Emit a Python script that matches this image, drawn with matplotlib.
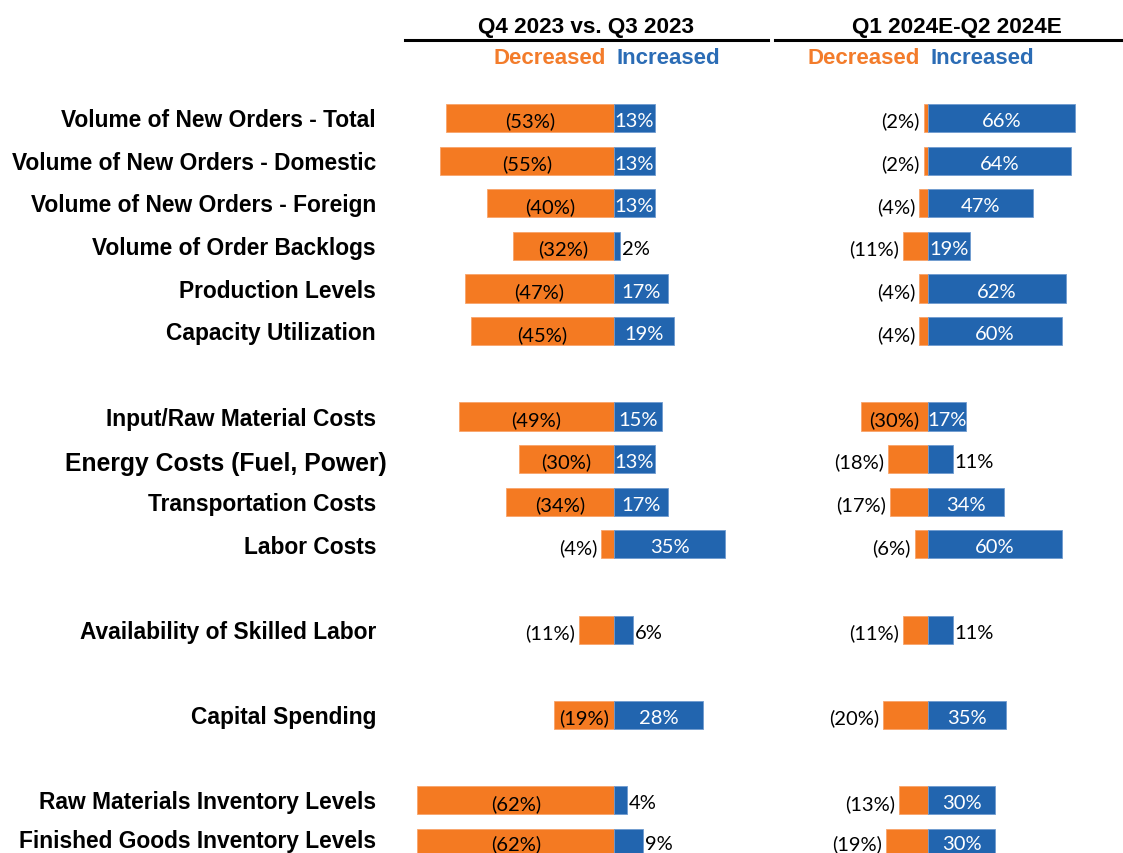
import matplotlib
matplotlib.use("Agg")
import matplotlib.pyplot as plt
from matplotlib.lines import Line2D
from matplotlib.transforms import blended_transform_factory, offset_copy

# ---------------- data ----------------
categories = [
    "Volume of New Orders - Total",
    "Volume of New Orders - Domestic",
    "Volume of New Orders - Foreign",
    "Volume of Order Backlogs",
    "Production Levels",
    "Capacity Utilization",
    "Input/Raw Material Costs",
    "Energy Costs (Fuel, Power)",
    "Transportation Costs",
    "Labor Costs",
    "Availability of Skilled Labor",
    "Capital Spending",
    "Raw Materials Inventory Levels",
    "Finished Goods Inventory Levels",
]
group_sizes = [6, 4, 1, 1, 2]

period_titles = ["Q4 2023 vs. Q3 2023", "Q1 2024E-Q2 2024E"]
legend_labels = ["Decreased", "Increased"]

q4_decreased = [53, 55, 40, 32, 47, 45, 49, 30, 34, 4, 11, 19, 62, 62]
q4_increased = [13, 13, 13, 2, 17, 19, 15, 13, 17, 35, 6, 28, 4, 9]
h1_decreased = [2, 2, 4, 11, 4, 4, 30, 18, 17, 6, 11, 20, 13, 19]
h1_increased = [66, 64, 47, 19, 62, 60, 17, 11, 34, 60, 11, 35, 30, 30]

# ---------------- style ----------------
ORANGE = "#F47A22"
BLUE = "#2265AF"
ORANGE_TXT = "#F37C2B"
BLUE_TXT = "#2B6CB5"
W, H = 1123, 854
LABEL_FONT = ["Liberation Sans", "DejaVu Sans"]
VAL_FONT = ["Lato", "DejaVu Sans"]
VAL_SIZE = 14.5

fig = plt.figure(figsize=(W / 100, H / 100), dpi=100)
fig.patch.set_facecolor("white")

# row positions with gaps between groups
positions = []
p = 0
for g in group_sizes:
    for _ in range(g):
        positions.append(p)
        p += 1
    p += 1

row0_px, row_step = 119.0, 42.64
y_top = -row0_px / row_step
y_bot = (H - row0_px) / row_step


def make_axes(x0, x1, center, scale):
    ax = fig.add_axes([x0 / W, 0, (x1 - x0) / W, 1])
    ax.set_xlim((x0 - center) / scale, (x1 - center) / scale)
    ax.set_ylim(y_bot, y_top)
    ax.axis("off")
    return ax


axL = make_axes(400, 770, 614, 3.17)
axR = make_axes(780, 1123, 928, 2.23)

fig.canvas.draw()
renderer = fig.canvas.get_renderer()
VAL_DY = 0.06
MIN_INSIDE_PX = 33


def keep_inside(t):
    """Nudge a text upward if it would be clipped by the bottom edge."""
    bb = t.get_window_extent(renderer)
    if bb.y0 < 1:
        t.set_transform(offset_copy(t.get_transform(), fig=fig,
                                    y=(1 - bb.y0), units="dots"))


def draw_panel(ax, dec, inc):
    ax.barh(positions, [-v for v in dec], height=0.66, color=ORANGE,
            edgecolor="#F8A46A", linewidth=0.6)
    ax.barh(positions, inc, height=0.66, color=BLUE,
            edgecolor="#6F9BD0", linewidth=0.6)
    px_per = ax.transData.transform((1, 0))[0] - ax.transData.transform((0, 0))[0]
    for y, d, i in zip(positions, dec, inc):
        yy = y + VAL_DY
        # decreased label
        t = ax.text(-d / 2, yy, f"({d}%)", ha="center", va="center",
                    fontsize=VAL_SIZE, family=VAL_FONT, color="black")
        w = t.get_window_extent(renderer).width
        if w + 4 > d * px_per:
            t.set_position((-d - 4 / px_per, yy))
            t.set_ha("right")
        keep_inside(t)
        # increased label
        t = ax.text(i / 2, yy, f"{i}%", ha="center", va="center",
                    fontsize=VAL_SIZE, family=VAL_FONT, color="white")
        w = t.get_window_extent(renderer).width
        bar_px = i * px_per
        if w > bar_px + 4 or bar_px < MIN_INSIDE_PX:
            t.set_position((i + 2 / px_per, yy))
            t.set_ha("left")
            t.set_color("black")
        keep_inside(t)


draw_panel(axL, q4_decreased, q4_increased)
draw_panel(axR, h1_decreased, h1_increased)

# category labels
tr = blended_transform_factory(fig.transFigure, axL.transData)
for cat, y in zip(categories, positions):
    if cat.startswith("Energy"):
        t = axL.text(387 / W, y + 0.08, cat, transform=tr, ha="right", va="center",
                     fontsize=17.8, family=LABEL_FONT, fontweight="bold", color="black")
    else:
        t = axL.text(376 / W, y + 0.04, cat, transform=tr, ha="right", va="center",
                     fontsize=16.4, family=LABEL_FONT, fontweight="bold", color="black")
    keep_inside(t)

# headers
def fy(py):
    return 1 - py / H

for title, cx, (lx0, lx1), center in [
    (period_titles[0], 586, (405, 768), 614),
    (period_titles[1], 957, (775, 1123), 928),
]:
    fig.text(cx / W, fy(27), title, ha="center", va="center", fontsize=16.2,
             family=LABEL_FONT, fontweight="bold", color="black")
    fig.add_artist(Line2D([lx0 / W, lx1 / W], [fy(40.5), fy(40.5)],
                          color="black", lw=2.2, transform=fig.transFigure))
    fig.text((center - 8) / W, fy(59), legend_labels[0], ha="right", va="center",
             fontsize=16, family=LABEL_FONT, fontweight="bold", color=ORANGE_TXT)
    fig.text((center + 2) / W, fy(59), legend_labels[1], ha="left", va="center",
             fontsize=16, family=LABEL_FONT, fontweight="bold", color=BLUE_TXT)

fig.savefig("out.png", dpi=100, facecolor="white")
